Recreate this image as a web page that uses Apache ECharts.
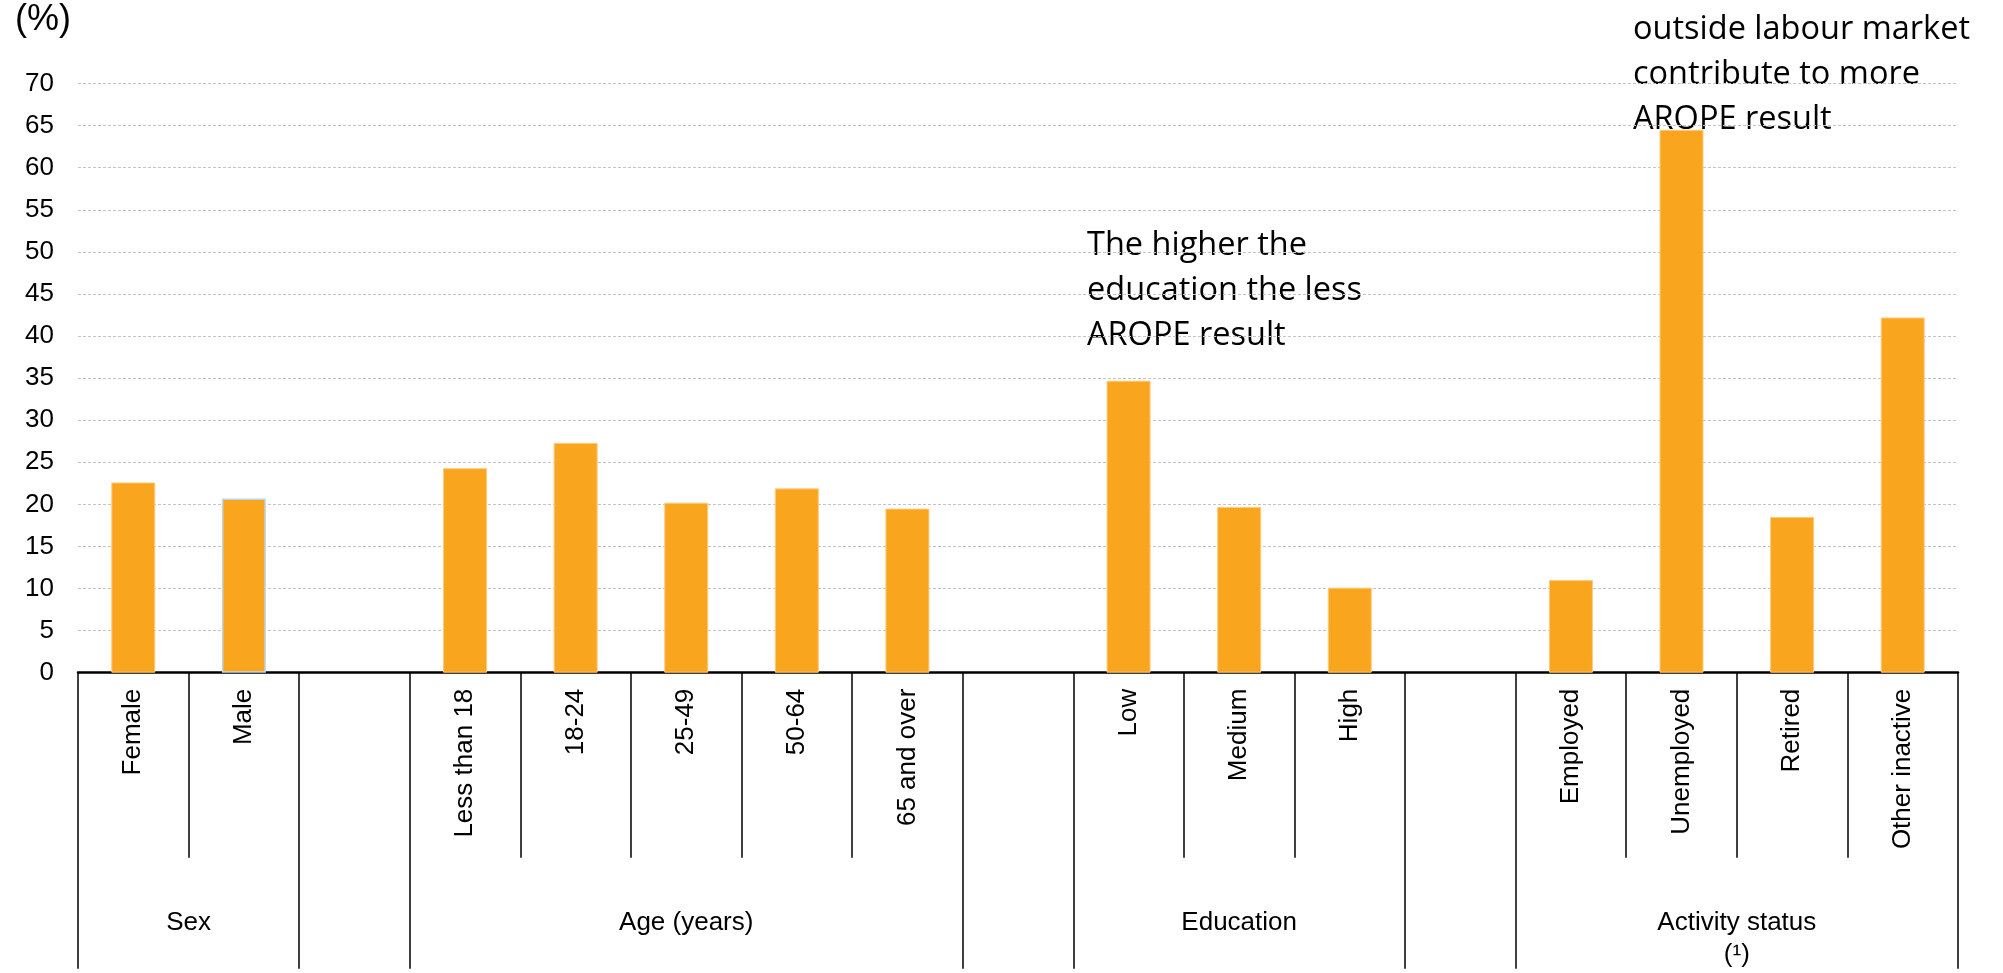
<!DOCTYPE html>
<html><head><meta charset="utf-8">
<script src="https://cdn.jsdelivr.net/npm/echarts@6/dist/echarts.min.js"></script>
<style>html,body{margin:0;padding:0;background:#fff}#chart{width:2003px;height:973px}</style>
</head><body><div id="chart"></div>
<script>
// ---- data ----
const categories = ['Female','Male','','Less than 18','18-24','25-49','50-64','65 and over','','Low','Medium','High','','Employed','Unemployed','Retired','Other inactive'];
const values = [22.6, 20.7, null, 24.3, 27.3, 20.2, 21.9, 19.5, null, 34.7, 19.7, 10.1, null, 11.0, 64.5, 18.5, 42.2];
const groupNames = ['Sex', 'Age (years)', 'Education', 'Activity status\n(¹)'];
const groupCenters = [1, 5.5, 10.5, 15];
const groupBounds = [0, 2, 3, 8, 9, 12, 13, 17];
const yMin = 0, yMax = 70, yStep = 5;
const unitLabel = '(%)';
const noteEducation = 'The higher the\neducation the less\nAROPE result';
const noteActivity = 'outside labour market\ncontribute to more\nAROPE result';

// ---- chart ----
const ARIAL = '"Liberation Sans", Arial, sans-serif';
const NOTE = '"Open Sans", "Noto Sans", sans-serif';
const barData = values.map((v, i) => ({
  value: v,
  itemStyle: categories[i] === 'Male'
    ? { borderColor: '#BDD7EE', borderWidth: 1.5 }
    : { borderColor: '#FCCB7E', borderWidth: 1 }
}));

const chart = echarts.init(document.getElementById('chart'), null, { renderer: 'canvas' });
chart.setOption({
  animation: false,
  backgroundColor: '#fff',
  grid: { left: 78, right: 45, top: 83.5, bottom: 300.3, containLabel: false },
  xAxis: [
    {
      type: 'category',
      data: categories,
      position: 'bottom',
      axisLine: { show: true, lineStyle: { color: '#000', width: 2.5 } },
      axisTick: { show: true, interval: 0, alignWithLabel: false, length: 185, lineStyle: { color: '#000', width: 1.5 } },
      axisLabel: { interval: 0, rotate: 90, margin: 16, fontSize: 26, color: '#000', fontFamily: ARIAL },
      splitLine: { show: false }
    },
    {
      type: 'value',
      min: 0, max: categories.length,
      position: 'bottom',
      offset: 0,
      axisLine: { show: false },
      axisTick: { show: true, customValues: groupBounds, length: 296, lineStyle: { color: '#000', width: 1.5 } },
      axisLabel: {
        show: true, customValues: groupCenters, margin: 234, fontSize: 26, lineHeight: 32,
        color: '#000', fontFamily: ARIAL, align: 'center',
        formatter: v => groupNames[groupCenters.indexOf(v)] || ''
      },
      splitLine: { show: false }
    }
  ],
  yAxis: {
    type: 'value',
    min: yMin, max: yMax, interval: yStep,
    axisLine: { show: false },
    axisTick: { show: false },
    axisLabel: { fontSize: 26, color: '#000', margin: 24, fontFamily: ARIAL },
    splitLine: { show: true, lineStyle: { color: '#c4c4c4', width: 1, type: [3, 2] } }
  },
  series: [{
    type: 'bar',
    xAxisIndex: 0,
    data: barData,
    barWidth: 44,
    itemStyle: { color: '#F9A51E' }
  }],
  graphic: [
    { type: 'text', left: 15, top: 2, style: { text: unitLabel, font: '36px ' + ARIAL, fill: '#000' } },
    { type: 'text', left: 1087, top: 223, style: { text: noteEducation, font: '32.5px ' + NOTE, lineHeight: 45, fill: '#000' } },
    { type: 'text', left: 1633, top: 7, style: { text: noteActivity, font: '32.5px ' + NOTE, lineHeight: 45, fill: '#000' } }
  ]
});
</script>
</body></html>
